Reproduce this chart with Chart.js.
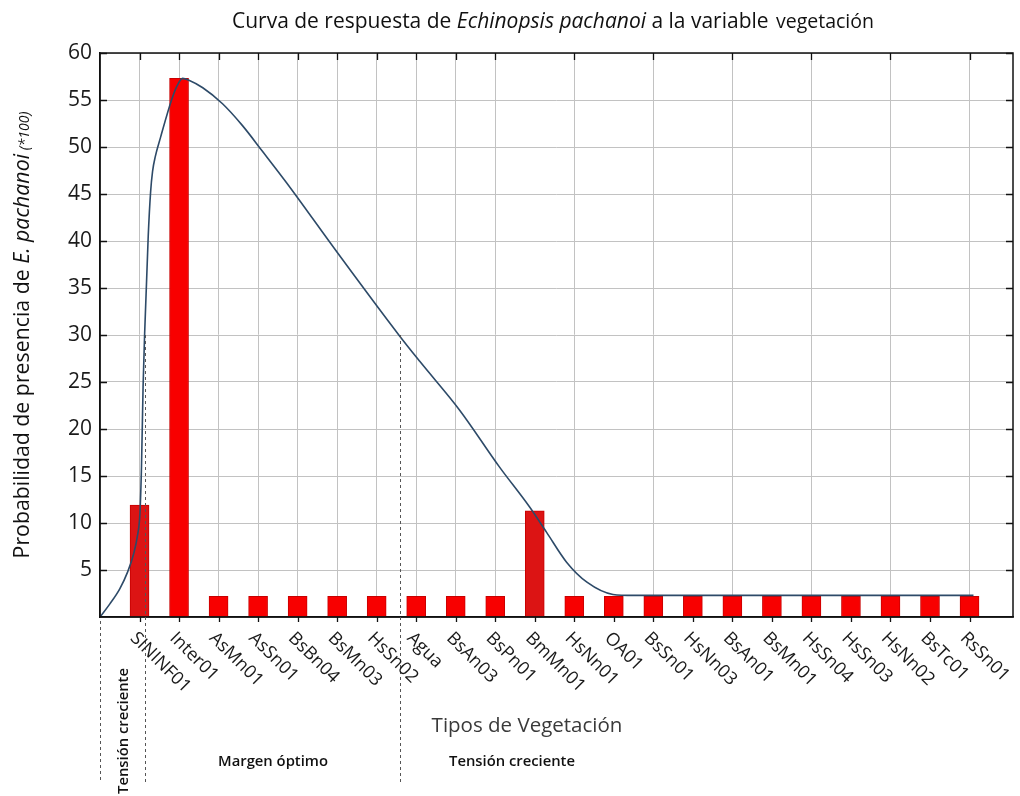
<!DOCTYPE html>
<html>
<head>
<meta charset="utf-8">
<script src="https://cdn.jsdelivr.net/npm/chart.js@4.4.1/dist/chart.umd.min.js"></script>
<style>
  html, body { margin: 0; padding: 0; background: #ffffff; }
  #wrap { width: 1020px; height: 796px; position: relative; }
</style>
</head>
<body>
<div id="wrap"><canvas id="c"></canvas></div>
<script>
// ---------- data ----------
const categories = ['SININF01','Inter01','AsMn01','AsSn01','BsBn04','BsMn03','HsSn02','Agua','BsAn03','BsPn01','BmMn01','HsNn01','OA01','BsSn01','HsNn03','BsAn01','BsMn01','HsSn04','HsSn03','HsNn02','BsTc01','RsSn01'];
const barValues = [11.9, 57.3, 2.2, 2.2, 2.2, 2.2, 2.2, 2.2, 2.2, 2.2, 11.3, 2.2, 2.2, 2.2, 2.2, 2.2, 2.2, 2.2, 2.2, 2.2, 2.2, 2.2];
// response curve (x in category positions, y in probability*100)
const curveX = [0, 0.25, 0.50, 0.70, 0.85, 0.95, 1.01, 1.05, 1.09, 1.13, 1.22, 1.28, 1.33, 1.40, 1.53, 1.81, 1.95, 2.09, 2.25, 2.60, 3.10, 3.60, 4.10, 4.72, 6.00, 7.58, 8.09, 9.10, 10.10, 10.87, 11.30, 11.81, 12.32, 12.98, 13.50, 22.10];
const curveY = [0, 1.4, 3.0, 4.8, 6.7, 8.7, 11.0, 16.0, 24.5, 30.2, 40.5, 45.2, 47.4, 49.0, 51.0, 55.0, 56.5, 57.3, 57.1, 56.3, 54.6, 52.3, 49.6, 46.2, 38.8, 29.9, 27.2, 22.0, 16.0, 11.7, 9.0, 5.8, 3.7, 2.4, 2.3, 2.3];
const yTicks = [5, 10, 15, 20, 25, 30, 35, 40, 45, 50, 55, 60];
const gridPositions = [1, 2, 3, 4, 5, 6, 7, 8, 9, 10, 12, 14, 16, 18, 20, 22];
const thresholdX = [1.13, 7.58];
const thresholdY = 30;
const zoneLabels = ['Tensión creciente', 'Margen óptimo', 'Tensión creciente'];

const barColors = barValues.map(v => v > 5 && v < 20 ? '#dc1414' : '#f80000');

const fontFam = '"Open Sans", "DejaVu Sans", sans-serif';

function measureParts(ctx, parts) {
  let w = 0;
  parts.forEach(p => { ctx.font = p.font; p.w = ctx.measureText(p.t).width; w += p.w; });
  return w;
}

const overlay = {
  id: 'overlay',
  afterDraw(chart) {
    const ctx = chart.ctx;
    const a = chart.chartArea;
    const xs = chart.scales.x, ys = chart.scales.y;
    ctx.save();

    // frame
    ctx.strokeStyle = '#111';
    ctx.lineWidth = 1.5;
    ctx.strokeRect(a.left, a.top, a.right - a.left, a.bottom - a.top);

    // tick marks
    ctx.lineWidth = 1.3;
    ctx.beginPath();
    yTicks.forEach(v => {
      const py = Math.round(ys.getPixelForValue(v)) + 0.5;
      ctx.moveTo(a.left, py); ctx.lineTo(a.left + 7, py);
      ctx.moveTo(a.right, py); ctx.lineTo(a.right - 7, py);
    });
    gridPositions.forEach(v => {
      const px = Math.round(xs.getPixelForValue(v)) + 0.5;
      ctx.moveTo(px, a.top); ctx.lineTo(px, a.top + 7);
    });
    categories.forEach((c, i) => {
      const px = Math.round(xs.getPixelForValue(i + 1)) + 0.5;
      ctx.moveTo(px, a.bottom); ctx.lineTo(px, a.bottom + 5);
    });
    ctx.stroke();

    // dashed zone separators
    ctx.strokeStyle = '#555';
    ctx.lineWidth = 1;
    ctx.setLineDash([3, 3]);
    ctx.beginPath();
    const bottomDash = 783;
    const x0 = Math.round(xs.getPixelForValue(0)) + 0.5;
    ctx.moveTo(x0, a.bottom + 4); ctx.lineTo(x0, bottomDash);
    thresholdX.forEach(v => {
      const px = Math.round(xs.getPixelForValue(v)) + 0.5;
      ctx.moveTo(px, ys.getPixelForValue(thresholdY)); ctx.lineTo(px, bottomDash);
    });
    ctx.stroke();
    ctx.setLineDash([]);

    // rotated category labels
    ctx.fillStyle = '#1a1a1a';
    ctx.font = '18px ' + fontFam;
    ctx.textAlign = 'left';
    ctx.textBaseline = 'alphabetic';
    categories.forEach((c, i) => {
      const px = xs.getPixelForValue(i + 1);
      ctx.save();
      ctx.translate(px - 10, a.bottom + 22);
      ctx.rotate(Math.PI / 4);
      ctx.fillText(c, 0, 0);
      ctx.restore();
    });

    // x axis title
    ctx.fillStyle = '#3a3a3a';
    ctx.font = '20.5px ' + fontFam;
    ctx.textAlign = 'center';
    ctx.fillText('Tipos de Vegetación', 527, 732);

    // zone labels
    ctx.fillStyle = '#111';
    ctx.font = '600 14.8px ' + fontFam;
    ctx.fillText(zoneLabels[1], 273, 766);
    ctx.fillText(zoneLabels[2], 512, 766);
    ctx.save();
    ctx.translate(128, 731);
    ctx.rotate(-Math.PI / 2);
    ctx.fillText(zoneLabels[0], 0, 0);
    ctx.restore();

    // chart title
    ctx.fillStyle = '#111';
    ctx.textAlign = 'left';
    const tParts = [
      { t: 'Curva de respuesta de ', font: '22px ' + fontFam },
      { t: 'Echinopsis pachanoi', font: 'italic 22px ' + fontFam },
      { t: ' a la variable ', font: '22px ' + fontFam }
    ];
    const tw = measureParts(ctx, tParts);
    const target = 542;
    const sx = target / tw;
    ctx.save();
    ctx.translate(232, 28);
    ctx.scale(sx, 1);
    let cx = 0;
    tParts.forEach(p => { ctx.font = p.font; ctx.fillText(p.t, cx, 0); cx += p.w; });
    ctx.restore();
    ctx.font = '19.5px ' + fontFam;
    ctx.fillText('vegetación', 232 + target + 2, 28);

    // y axis title
    const yParts = [
      { t: 'Probabilidad de presencia de ', font: '21.3px ' + fontFam },
      { t: 'E. pachanoi', font: 'italic 21.3px ' + fontFam },
      { t: ' (*100)', font: 'italic 14px ' + fontFam }
    ];
    const yw = measureParts(ctx, yParts);
    ctx.save();
    ctx.translate(29, 335);
    ctx.rotate(-Math.PI / 2);
    let yx = -yw / 2;
    yParts.forEach(p => { ctx.font = p.font; ctx.fillText(p.t, yx, 0); yx += p.w; });
    ctx.restore();

    ctx.restore();
  }
};

new Chart(document.getElementById('c'), {
  data: {
    datasets: [
      {
        type: 'line',
        label: 'curva',
        data: curveX.map((x, i) => ({ x: x, y: curveY[i] })),
        borderColor: '#2d4a68',
        borderWidth: 1.6,
        pointRadius: 0,
        cubicInterpolationMode: 'monotone',
        fill: false,
        order: 0
      },
      {
        type: 'bar',
        label: 'barras',
        data: barValues.map((v, i) => ({ x: i + 1, y: v })),
        backgroundColor: barColors,
        borderColor: '#c80000',
        borderWidth: 1,
        barThickness: 19,
        order: 1
      }
    ]
  },
  options: {
    responsive: true,
    maintainAspectRatio: false,
    animation: false,
    devicePixelRatio: 1,
    layout: { padding: { top: 53, right: 7, bottom: 0, left: 0 } },
    plugins: { legend: { display: false }, tooltip: { enabled: false }, title: { display: false } },
    scales: {
      x: {
        type: 'linear',
        min: 0,
        max: 23.1,
        offset: false,
        afterFit: s => { s.height = 179; },
        ticks: { display: false, stepSize: 1 },
        grid: {
          offset: false,
          drawTicks: false,
          color: c => (c.tick && gridPositions.includes(c.tick.value)) ? '#c2c2c2' : 'rgba(0,0,0,0)',
          lineWidth: 1
        },
        border: { display: true, color: '#111', width: 1.5 }
      },
      y: {
        min: 0,
        max: 60,
        afterFit: s => { s.width = 100; },
        afterBuildTicks: s => { s.ticks = [0].concat(yTicks).map(v => ({ value: v })); },
        ticks: {
          padding: 8,
          color: '#1a1a1a',
          font: { family: 'Open Sans', size: 21 },
          callback: v => (v === 0 ? '' : String(v))
        },
        grid: { drawTicks: false, color: '#c2c2c2', lineWidth: 1 },
        border: { display: true, color: '#111', width: 1.5 }
      }
    }
  },
  plugins: [overlay]
});
</script>
</body>
</html>
